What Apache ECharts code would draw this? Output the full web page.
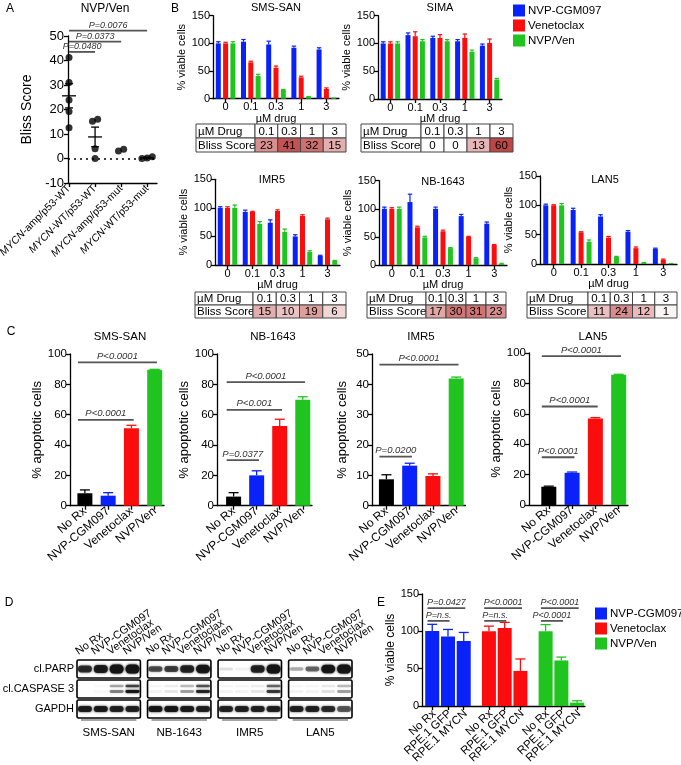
<!DOCTYPE html>
<html><head><meta charset="utf-8">
<script src="https://cdn.jsdelivr.net/npm/echarts@6/dist/echarts.min.js"></script>
<style>html,body{margin:0;padding:0;background:#fff}#c{width:681px;height:765px}</style>
</head><body><div id="c"></div>
<script>
// ================= DATA =================
// Panel A
const aCategories = ['MYCN-amp/p53-WT','MYCN-WT/p53-WT','MYCN-amp/p53-mut','MYCN-WT/p53-mut'];
const aAmpWT = [41.2, 31, 23.9, 19.2, 12.6];
const aWtWT = [15.2, 16, 4, 0];
const aAmpMut = [3.1, 3.8];
const aWtMut = [0.7, 0.2, 0];
const aYTicks = [-10, 0, 10, 20, 30, 40, 50];
const aBracketTo = [1, 2, 3];
const aBracketY = [43.5, 47.7, 52.2];
const aBracketText = ['P=0.0480', 'P=0.0373', 'P=0.0076'];

// Panel B
const bDoses = ['0','0.1','0.3','1','3'];
const bBlissDoses = ['0.1','0.3','1','3'];
const bYTicks = [0, 50, 100, 150];
const drugNames = ['NVP-CGM097','Venetoclax','NVP/Ven'];
const smsSanNvp = [100,103,98,92,89],     smsSanNvpErr = [3,4,6,3,3];
const smsSanVen = [100,65.7,56,38.6,17.5], smsSanVenErr = [2,2,3,2,2];
const smsSanCombo = [100,41,15.7,3,0.5],  smsSanComboErr = [3,3,1,1,0.5];
const smsSanBliss = [23,41,32,15];
const simaNvp = [100,115,110,104,96],     simaNvpErr = [3,4,3,3,3];
const simaVen = [100,113,110,110,101],    simaVenErr = [3,8,6,7,7];
const simaCombo = [100,104,104,85,35],    simaComboErr = [3,3,3,3,2];
const simaBliss = [0,0,13,60];
const imr5Nvp = [100,93,74,50,16],        imr5NvpErr = [2,3,5,3,1];
const imr5Ven = [100,93,94.5,86,80],      imr5VenErr = [2,1,2,2,2];
const imr5Combo = [100,72,58,23,7],       imr5ComboErr = [5,4,5,2,1];
const imr5Bliss = [15,10,19,6];
const nb1643Nvp = [100,112,100,87,73.5],  nb1643NvpErr = [3,14,3,3,3];
const nb1643Ven = [100,67,60,50,35.5],    nb1643VenErr = [2,2,2,1,1];
const nb1643Combo = [100,49,30,12,2],     nb1643ComboErr = [3,2,1,1,1];
const nb1643Bliss = [17,30,31,23];
const lan5Nvp = [100,92,81,55,26],        lan5NvpErr = [2,3,3,2,1];
const lan5Ven = [100,54,45,27,7.4],       lan5VenErr = [1,1,2,2,1];
const lan5Combo = [100,38,12,2,0.5],      lan5ComboErr = [3,3,1,0.5,0.3];
const lan5Bliss = [11,24,12,1];

// Panel C
const cTreatments = ['No Rx','NVP-CGM097','Venetoclax','NVP/Ven'];
const cYTicks100 = [0,20,40,60,80,100];
const cYTicks50 = [0,10,20,30,40,50];
const cSmsSan = [8.2,6.6,51,89.6],   cSmsSanErr = [2.2,2,2,0.3];
const cNb1643 = [6,20,52.6,69.8],    cNb1643Err = [2.6,3,4.4,2];
const cImr5 = [8.7,13.2,9.8,41.9],   cImr5Err = [1.5,0.8,0.7,0.5];
const cLan5 = [12,21.2,56.9,85.7],   cLan5Err = [0.4,0.5,0.6,0.3];
// brackets: [fromIndex, toIndex, height, text]
const cSmsSanP = [[0,3,94.5,'P<0.0001'],[0,2,56.6,'P<0.0001']];
const cNb1643P = [[0,3,81.5,'P<0.0001'],[0,2,63.2,'P<0.001'],[0,1,30,'P=0.0377']];
const cImr5P = [[0,3,46.5,'P<0.0001'],[0,1,16.2,'P=0.0200']];
const cLan5P = [[0,3,98,'P<0.0001'],[0,2,64.8,'P<0.0001'],[0,1,31.4,'P<0.0001']];

// Panel D (band intensity 0..1, lanes: No Rx, NVP-CGM097, Venetoclax, NVP/Ven)
const dCellLines = ['SMS-SAN','NB-1643','IMR5','LAN5'];
const dLanes = ['No Rx','NVP-CGM097','Venetoclax','NVP/Ven'];
const dProteins = ['cl.PARP','cl.CASPASE 3','GAPDH'];
const dParp  = [[0.8,0.9,1,1],[0.65,0.7,0.85,0.95],[0.12,0.05,0.85,1],[0.3,0.55,0.95,1]];
const dCasp3 = [[0,0.03,0.45,0.95],[0.05,0.1,0.35,0.85],[0.05,0.05,0.1,0.75],[0.05,0.05,0.12,0.35]];
const dGapdh = [[0.9,0.9,0.85,0.85],[0.95,0.95,0.9,0.85],[0.85,0.85,0.85,0.85],[0.85,0.85,0.8,0.6]];

// Panel E
const eConditions = ['No Rx','RPE.1 GFP','RPE.1 MYCN'];
const eYTicks = [0,50,100,150];
const eNvp = [100.4,93,87],   eNvpErr = [9,9.5,11.5];
const eVen = [100,104.5,47],  eVenErr = [7,7.5,16];
const eCombo = [100,61,4.5],  eComboErr = [9,4.5,2.5];
const eNvpP = [[0,2,131,'P=0.0427'],[0,1,114,'P=n.s.']];
const eVenP = [[0,2,131,'P<0.0001'],[0,1,114,'P=n.s.']];
const eComboP = [[0,2,131,'P<0.0001'],[0,1,114,'P<0.0001']];

// ================= STYLE / HELPERS =================
const FONT = '"Liberation Sans", Arial, Helvetica, sans-serif';
const DRUG_COLORS = ['#0a22fa','#fb0d0d','#1fc41f'];
const C_COLORS = ['#000000','#0a22fa','#fb0d0d','#1fc41f'];
const LS = {color:'#000', width:1.3};

function deepMerge(a, b) {
  const out = Object.assign({}, a);
  for (const k in b) {
    const bv = b[k];
    if (bv && typeof bv === 'object' && !Array.isArray(bv) && a && a[k] && typeof a[k] === 'object' && !Array.isArray(a[k])) out[k] = deepMerge(a[k], bv);
    else out[k] = bv;
  }
  return out;
}
const baseAxis = {
  type:'value',
  axisLine:{show:true, onZero:false, lineStyle:LS},
  axisTick:{show:true, length:4, lineStyle:LS},
  splitLine:{show:false},
  axisLabel:{color:'#000', fontFamily:FONT, fontSize:11, margin:3, showMinLabel:true, showMaxLabel:true, hideOverlap:false},
  nameTextStyle:{color:'#000', fontFamily:FONT, fontSize:11}
};
const ax = o => deepMerge(baseAxis, o);
const hiddenAxis = (min, max, extra) => Object.assign({type:'value', min, max, show:false}, extra || {});

const grids = [], xAxes = [], yAxes = [], series = [], graphics = [];
function addGrid(rect, xa, ya) {
  const i = grids.length;
  grids.push({left:rect[0], top:rect[1], width:rect[2], height:rect[3], containLabel:false, outerBoundsMode:'none'});
  xAxes.push(Object.assign({gridIndex:i}, xa));
  yAxes.push(Object.assign({gridIndex:i}, ya));
  return i;
}
function gText(text, x, y, size, opts) {
  opts = opts || {};
  graphics.push({type:'text', x, y, silent:true, style:{
    text, fontSize:size, fontFamily:FONT, fontStyle:opts.italic ? 'italic' : 'normal', fill:'#000',
    align:opts.align || 'center', verticalAlign:'middle', textAlign:opts.align || 'center', textVerticalAlign:'middle'}});
}
function errSeries(gi, pts, colorFn, cap, lw) {
  return {type:'custom', xAxisIndex:gi, yAxisIndex:gi, silent:true, z:3, data:pts,
    renderItem:(p, api) => {
      const x = api.value(0), y = api.value(1), e = api.value(2);
      const a = api.coord([x, y]), b = api.coord([x, y + e]);
      const c = colorFn(p.dataIndex);
      return {type:'group', children:[
        {type:'line', shape:{x1:a[0], y1:a[1], x2:b[0], y2:b[1]}, style:{stroke:c, lineWidth:lw}},
        {type:'line', shape:{x1:b[0]-cap, y1:b[1], x2:b[0]+cap, y2:b[1]}, style:{stroke:c, lineWidth:lw}}
      ]};
    }};
}
function bracketSeries(gi, list, shift, padL, padR, fontSize) {
  return {type:'custom', xAxisIndex:gi, yAxisIndex:gi, silent:true, z:4,
    data:list.map((b, i) => [b[0] + shift, b[2], i]),
    renderItem:(p, api) => {
      const b = list[p.dataIndex];
      const a = api.coord([b[0] + shift - padL, b[2]]), c = api.coord([b[1] + shift + padR, b[2]]);
      return {type:'group', children:[
        {type:'line', shape:{x1:a[0], y1:a[1], x2:c[0], y2:c[1]}, style:{stroke:'#555', lineWidth:1.8}},
        {type:'text', x:(a[0] + c[0]) / 2, y:a[1] - 1, style:{text:b[3], fontSize, fontStyle:'italic', fontFamily:FONT, fill:'#333', align:'center', verticalAlign:'bottom'}}
      ]};
    }};
}
const idx = n => Array.from({length:n}, (_, i) => i);

// ================= PANEL A =================
(function () {
  const groups = [aAmpWT, aWtWT, aAmpMut, aWtMut];
  const gi = addGrid([68, 36, 89, 147],
    ax({min:-0.04, max:3.38,
      axisTick:{customValues:idx(4)},
      axisLabel:{customValues:idx(4), rotate:45, fontSize:10.5, margin:4,
        formatter:v => { const s = aCategories[Math.round(v)] || ''; return '{i|MYCN}{n|' + s.slice(4) + '}'; },
        rich:{i:{fontStyle:'italic', fontSize:10.5, fontFamily:FONT, color:'#000'}, n:{fontSize:10.5, fontFamily:FONT, color:'#000'}}}}),
    ax({min:-10, max:50, axisTick:{customValues:aYTicks}, axisLabel:{customValues:aYTicks, fontSize:13, margin:4},
      name:'Bliss Score', nameLocation:'middle', nameGap:34, nameTextStyle:{fontSize:14}}));
  const pts = [], stats = [];
  groups.forEach((vals, c) => {
    const order = vals.map((v, i) => ({v, i})).sort((a, b) => b.v - a.v);
    const clusters = []; let cur = [order[0]];
    for (let k = 1; k < order.length; k++) {
      if (cur[cur.length - 1].v - order[k].v < 2.5) cur.push(order[k]); else { clusters.push(cur); cur = [order[k]]; }
    }
    clusters.push(cur);
    clusters.forEach(cl => cl.forEach((p, j) => pts.push([c + ((cl.length - 1) / 2 - j) * 0.2, p.v])));
    if (vals.length > 2) {
      const m = vals.reduce((s, v) => s + v, 0) / vals.length;
      const sd = Math.sqrt(vals.reduce((s, v) => s + (v - m) * (v - m), 0) / (vals.length - 1));
      stats.push([c, m, sd / Math.sqrt(vals.length)]);
    }
  });
  series.push({type:'scatter', xAxisIndex:gi, yAxisIndex:gi, symbolSize:7, itemStyle:{color:'#000'}, data:pts, silent:true, z:3,
    markLine:{silent:true, symbol:'none', label:{show:false}, lineStyle:{type:[2,4], color:'#000', width:1.5}, data:[{yAxis:0}]}});
  series.push({type:'custom', xAxisIndex:gi, yAxisIndex:gi, silent:true, z:4, data:stats,
    renderItem:(p, api) => {
      const x = api.value(0), m = api.value(1), s = api.value(2);
      const pm = api.coord([x, m]), pt = api.coord([x, m + s]), pb = api.coord([x, m - s]);
      const st = {stroke:'#000', lineWidth:1.3};
      return {type:'group', children:[
        {type:'line', shape:{x1:pm[0]-7, y1:pm[1], x2:pm[0]+7, y2:pm[1]}, style:st},
        {type:'line', shape:{x1:pt[0], y1:pt[1], x2:pb[0], y2:pb[1]}, style:st},
        {type:'line', shape:{x1:pt[0]-4, y1:pt[1], x2:pt[0]+4, y2:pt[1]}, style:st},
        {type:'line', shape:{x1:pb[0]-4, y1:pb[1], x2:pb[0]+4, y2:pb[1]}, style:st}
      ]};
    }});
  const aBr = aBracketTo.map((t, i) => [0, t, aBracketY[i], aBracketText[i]]);
  series.push(bracketSeries(gi, aBr, 0, 0, 0, 9));
  gText('A', 10, 9, 12);
  gText('NVP/Ven', 105, 9, 12);
})();

// ================= PANEL B =================
function blissColor(v) {
  const t = Math.pow(Math.min(1, Math.max(0, v) / 45), 0.75);
  const c0 = [255,255,255], c1 = [192,70,70];
  const c = c0.map((a, i) => Math.round(a + (c1[i] - a) * t));
  return 'rgb(' + c.join(',') + ')';
}
function bChart(title, rect, titlePos, vals, errs) {
  const gi = addGrid(rect,
    ax({min:-0.5, max:4.5, axisTick:{customValues:idx(5)},
      axisLabel:{customValues:idx(5), formatter:v => bDoses[Math.round(v)], margin:3},
      name:'µM drug', nameLocation:'middle', nameGap:12}),
    ax({min:0, max:150, axisTick:{customValues:bYTicks}, axisLabel:{customValues:bYTicks},
      name:'% viable cells', nameLocation:'middle', nameGap:21}));
  const offs = [-0.29, 0, 0.29];
  vals.forEach((v, s) => {
    series.push({type:'bar', name:drugNames[s], xAxisIndex:gi, yAxisIndex:gi, barWidth:5, barGap:'-100%', silent:true,
      itemStyle:{color:DRUG_COLORS[s]}, data:v.map((y, i) => [i + offs[s], y])});
    series.push(errSeries(gi, v.map((y, i) => [i + offs[s], y, errs[s][i]]), () => DRUG_COLORS[s], 2.2, 1.2));
  });
  gText(title, titlePos[0], titlePos[1], 11);
}
function blissTable(rect, labelW, scores) {
  const cellW = (rect[2] - labelW) / 4;
  const lu = labelW / cellW;
  const gi = addGrid(rect, hiddenAxis(0, lu + 4), hiddenAxis(0, 2));
  const rows = [['µM Drug'].concat(bBlissDoses), ['Bliss Score'].concat(scores.map(String))];
  const data = [];
  rows.forEach((r, ri) => r.forEach((t, ci) => data.push([ci, ri, ci > 0 && ri === 1 ? scores[ci - 1] : -1])));
  series.push({type:'custom', xAxisIndex:gi, yAxisIndex:gi, silent:true, data,
    renderItem:(p, api) => {
      const ci = api.value(0), ri = api.value(1), v = api.value(2);
      const x0 = ci === 0 ? 0 : lu + ci - 1, x1 = ci === 0 ? lu : lu + ci;
      const yTop = 2 - ri, yBot = 1 - ri;
      const a = api.coord([x0, yTop]), b = api.coord([x1, yBot]);
      const txt = rows[ri][ci];
      return {type:'group', children:[
        {type:'rect', shape:{x:a[0], y:a[1], width:b[0]-a[0], height:b[1]-a[1]},
          style:{fill: v >= 0 ? blissColor(v) : '#fff', stroke:'#444', lineWidth:1}},
        {type:'text', x: ci === 0 ? a[0] + 2 : (a[0] + b[0]) / 2, y:(a[1] + b[1]) / 2 + 0.5,
          style:{text:txt, fontSize:11.5, fontFamily:FONT, fill:'#000', align: ci === 0 ? 'left' : 'center', verticalAlign:'middle'}}
      ]};
    }});
}
bChart('SMS-SAN', [213, 15.7, 126, 83], [276, 8], [smsSanNvp, smsSanVen, smsSanCombo], [smsSanNvpErr, smsSanVenErr, smsSanComboErr]);
bChart('SIMA', [378, 15.7, 124, 83.3], [440, 8], [simaNvp, simaVen, simaCombo], [simaNvpErr, simaVenErr, simaComboErr]);
bChart('IMR5', [215, 179.3, 125, 85.7], [272, 180], [imr5Nvp, imr5Ven, imr5Combo], [imr5NvpErr, imr5VenErr, imr5ComboErr]);
bChart('NB-1643', [379, 180.7, 128, 84.3], [443, 182], [nb1643Nvp, nb1643Ven, nb1643Combo], [nb1643NvpErr, nb1643VenErr, nb1643ComboErr]);
bChart('LAN5', [540, 176, 137, 88], [605, 180], [lan5Nvp, lan5Ven, lan5Combo], [lan5NvpErr, lan5VenErr, lan5ComboErr]);
blissTable([196, 124, 150, 28], 59, smsSanBliss);
blissTable([361, 124, 152, 28], 60, simaBliss);
blissTable([195, 292, 151, 26], 58, imr5Bliss);
blissTable([367, 292, 139, 26], 59, nb1643Bliss);
blissTable([527, 292, 150, 26], 61, lan5Bliss);
gText('B', 175, 9, 12);

// ================= PANEL C =================
function cChart(title, rect, titleX, xmin, yTicks, vals, errs, brackets) {
  const ymax = yTicks[yTicks.length - 1];
  const gi = addGrid(rect,
    ax({min:xmin, max:3.4, axisTick:{customValues:idx(4)},
      axisLabel:{customValues:idx(4), rotate:40, fontSize:12, margin:4, formatter:v => cTreatments[Math.round(v)]}}),
    ax({min:0, max:ymax, axisTick:{customValues:yTicks}, axisLabel:{customValues:yTicks, fontSize:11.5},
      name:'% apoptotic cells', nameLocation:'middle', nameGap:23, nameTextStyle:{fontSize:13}}));
  series.push({type:'bar', xAxisIndex:gi, yAxisIndex:gi, barWidth:15, silent:true,
    data:vals.map((v, i) => ({value:[i, v], itemStyle:{color:C_COLORS[i]}}))});
  series.push(errSeries(gi, vals.map((v, i) => [i, v, errs[i]]), i => C_COLORS[i], 5, 1.3));
  series.push(bracketSeries(gi, brackets, 0, 0.3, 0.1, 9.5));
  gText(title, titleX, 337, 11.5);
}
cChart('SMS-SAN', [70, 354, 94, 151.7], 120, -0.64, cYTicks100, cSmsSan, cSmsSanErr, cSmsSanP);
cChart('NB-1643', [217, 354, 95, 151.7], 273, -0.72, cYTicks100, cNb1643, cNb1643Err, cNb1643P);
cChart('IMR5', [372, 354, 93.5, 151.7], 421, -0.62, cYTicks50, cImr5, cImr5Err, cImr5P);
cChart('LAN5', [529, 353, 99, 152], 593, -0.85, cYTicks100, cLan5, cLan5Err, cLan5P);
gText('C', 11, 332, 12);

// ================= PANEL D =================
(function () {
  const stride = 4.45;
  const gi = addGrid([77, 659, 275, 60],
    {type:'value', min:0, max:stride * 3 + 4, axisLine:{show:false}, axisTick:{show:false}, splitLine:{show:false},
      axisLabel:{customValues:idx(4).map(b => b * stride + 2), margin:8, color:'#000', fontFamily:FONT, fontSize:11.5,
        showMinLabel:true, showMaxLabel:true, formatter:v => dCellLines[Math.round((v - 2) / stride)]}},
    {type:'value', min:0, max:3, inverse:true, axisLine:{show:false}, axisTick:{show:false}, splitLine:{show:false},
      axisLabel:{customValues:[0.5, 1.5, 2.5], margin:3, color:'#000', fontFamily:FONT, fontSize:11,
        showMinLabel:true, showMaxLabel:true, formatter:v => dProteins[Math.floor(v)]}});
  const rowsData = [dParp, dCasp3, dGapdh];
  const bands = [];
  rowsData.forEach((rd, r) => rd.forEach((blot, b) => blot.forEach((I, l) => bands.push([b * stride + l + 0.5, r + 0.5, I, r]))));
  series.push({type:'custom', xAxisIndex:gi, yAxisIndex:gi, silent:true, z:2, data:bands,
    renderItem:(p, api) => {
      const c = api.coord([api.value(0), api.value(1)]), I = api.value(2), r = api.value(3);
      const w = api.size([1, 0])[0] * 0.88;
      if (I <= 0.01) return {type:'group', children:[]};
      const mk = (yc, h, op) => ({type:'rect', shape:{x:c[0] - w / 2, y:yc - h / 2, width:w, height:h, r:h / 2},
        style:{fill:'rgba(20,20,20,' + op + ')', shadowBlur:2.5, shadowColor:'rgba(0,0,0,' + op + ')'}});
      let kids;
      if (r === 0) kids = [mk(c[1], 3 + 6 * I * I, Math.min(1, I))];
      else if (r === 1) kids = [mk(c[1] - 3, 2.6, I * 0.75), mk(c[1] + 2.5, 2.8, I)];
      else kids = [mk(c[1], 6, I)];
      return {type:'group', children:kids};
    }});
  const boxes = [];
  dCellLines.forEach((_, b) => dProteins.forEach((_, r) => boxes.push([b * stride, r])));
  series.push({type:'custom', xAxisIndex:gi, yAxisIndex:gi, silent:true, z:3, data:boxes,
    renderItem:(p, api) => {
      const x = api.value(0), r = api.value(1);
      const a = api.coord([x, r + 0.05]), b = api.coord([x + 4, r + 0.95]);
      const kids = [{type:'rect', shape:{x:a[0], y:a[1], width:b[0]-a[0], height:b[1]-a[1], r:1.5},
        style:{fill:'none', stroke:'#000', lineWidth:1.6}}];
      if (r === 2) kids.push({type:'line', shape:{x1:a[0]+4, y1:b[1]+2, x2:b[0]-4, y2:b[1]+2}, style:{stroke:'#888', lineWidth:1.5}});
      return {type:'group', children:kids};
    }});
  const lanes = [];
  dCellLines.forEach((_, b) => dLanes.forEach((_, l) => lanes.push([b * stride + l + 0.5, l])));
  series.push({type:'custom', xAxisIndex:gi, yAxisIndex:gi, silent:true, z:3, data:lanes,
    renderItem:(p, api) => {
      const c = api.coord([api.value(0), 0]);
      return {type:'text', x:c[0] - 5, y:c[1] - 2, rotation:35 * Math.PI / 180,
        style:{text:dLanes[api.value(1)], fontSize:11, fontFamily:FONT, fill:'#000', align:'left', verticalAlign:'bottom'}};
    }});
  gText('D', 9, 603, 12);
})();

// ================= PANEL E =================
(function () {
  const stride = 3.6;
  const pos = [];
  [0, 1, 2].forEach(g => eConditions.forEach((_, i) => pos.push(g * stride + i)));
  const gi = addGrid([422, 594, 163, 112],
    ax({min:-0.65, max:9.7, axisTick:{customValues:pos}, axisLabel:{show:false}}),
    ax({min:0, max:150, axisTick:{customValues:eYTicks}, axisLabel:{customValues:eYTicks, fontSize:11},
      name:'% viable cells', nameLocation:'middle', nameGap:25, nameTextStyle:{fontSize:12}}));
  const groups = [eNvp, eVen, eCombo], errs = [eNvpErr, eVenErr, eComboErr], brs = [eNvpP, eVenP, eComboP];
  groups.forEach((v, g) => {
    series.push({type:'bar', name:drugNames[g], xAxisIndex:gi, yAxisIndex:gi, barWidth:14, barGap:'-100%', silent:true,
      itemStyle:{color:DRUG_COLORS[g]}, data:v.map((y, i) => [g * stride + i, y])});
    series.push(errSeries(gi, v.map((y, i) => [g * stride + i, y, errs[g][i]]), () => DRUG_COLORS[g], 5, 1.3));
    series.push(bracketSeries(gi, brs[g], g * stride, 0.3, 0.1, 9));
  });
  // rotated category labels, anchored at each tick through the axis scale
  series.push({type:'custom', xAxisIndex:gi, yAxisIndex:gi, silent:true, z:5,
    data:pos.map((x, k) => [x, 0, k % 3]),
    renderItem:(p, api) => {
      const c = api.coord([api.value(0), 0]);
      return {type:'text', x:c[0] + 2, y:c[1] + 6, rotation:43 * Math.PI / 180,
        style:{text:eConditions[api.value(2)], fontSize:11.5, fontFamily:FONT, fill:'#000', align:'right', verticalAlign:'middle'}};
    }});
  gText('E', 381, 603, 12);
})();

// ================= RENDER =================
const chart = echarts.init(document.getElementById('c'), null, {renderer:'canvas'});
chart.setOption({
  animation:false,
  backgroundColor:'#fff',
  textStyle:{fontFamily:FONT},
  grid:grids, xAxis:xAxes, yAxis:yAxes, series,
  legend:[
    {left:513, top:4, orient:'vertical', padding:0, itemWidth:12, itemHeight:12, itemGap:2, icon:'rect',
      data:drugNames, selectedMode:false, textStyle:{fontSize:11.5, fontFamily:FONT, color:'#000', lineHeight:13, padding:[0,0,0,-2]}},
    {left:595, top:607, orient:'vertical', padding:0, itemWidth:12, itemHeight:12, itemGap:2, icon:'rect',
      data:drugNames, selectedMode:false, textStyle:{fontSize:11.5, fontFamily:FONT, color:'#000', lineHeight:13, padding:[0,0,0,-2]}}
  ],
  graphic:{elements:graphics}
});
</script></body></html>
